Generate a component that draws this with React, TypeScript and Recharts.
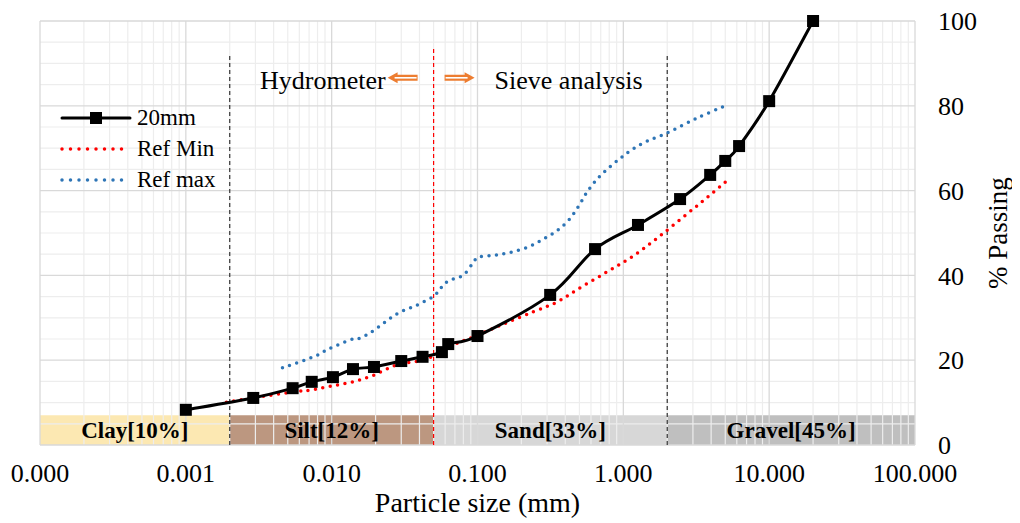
import React from 'react';
import {
  ComposedChart,
  Line,
  XAxis,
  YAxis,
  ReferenceLine,
  ReferenceArea,
  ReferenceDot,
  Legend,
  Label,
} from 'recharts';

// 20mm gradation (hydrometer + sieve)
const sizes20 = [0.001, 0.0029, 0.0054, 0.0073, 0.0102, 0.014, 0.0195, 0.03, 0.042, 0.057, 0.063, 0.1, 0.315, 0.64, 1.26, 2.45, 3.94, 5.0, 6.22, 10, 20];
const pass20 = [8.3, 11.1, 13.4, 14.9, 16.0, 17.9, 18.4, 19.8, 20.8, 21.9, 23.8, 25.7, 35.4, 46.2, 51.9, 58.0, 63.7, 67.0, 70.5, 81.1, 100];

// reference envelope, lower bound
const refMinSizes = [0.0019, 0.0029, 0.0054, 0.0073, 0.01, 0.014, 0.0195, 0.028, 0.042, 0.053, 0.068, 0.094, 0.15, 0.24, 0.35, 0.49, 0.77, 1.17, 1.78, 2.78, 3.8, 5.0];
const refMinPass = [10.1, 11.1, 12.5, 13.0, 13.9, 14.9, 16.5, 18.9, 20.0, 21.5, 23.6, 25.5, 28.5, 31.4, 33.7, 36.8, 40.8, 44.6, 49.3, 54.7, 58.5, 62.0];

// reference envelope, upper bound
const refMaxSizes = [0.0046, 0.0075, 0.0095, 0.0134, 0.0156, 0.0192, 0.028, 0.0385, 0.05, 0.057, 0.0633, 0.08, 0.093, 0.102, 0.133, 0.171, 0.223, 0.283, 0.35, 0.424, 0.495, 0.565, 0.66, 0.79, 0.96, 1.16, 1.46, 2.0, 3.2, 5.0];
const refMaxPass = [18.2, 20.8, 22.6, 24.8, 25.2, 26.9, 30.9, 33.0, 35.1, 37.3, 38.7, 40.1, 42.9, 44.3, 44.8, 45.5, 46.7, 48.6, 50.5, 53.1, 56.4, 59.7, 62.7, 65.3, 67.7, 69.8, 71.7, 73.6, 77.1, 80.0];

const xTicks = [0.0001, 0.001, 0.01, 0.1, 1, 10, 100];
const yTicks = [0, 20, 40, 60, 80, 100];

// soil classes along the bottom
const soilNames = ['Clay[10%]', 'Silt[12%]', 'Sand[33%]', 'Gravel[45%]'];
const soilBounds = [0.0001, 0.002, 0.05, 2, 100];
const soilColors = ['#FCE6AA', '#B58C72', '#D3D3D3', '#B8B8B8'];
const bandTop = 7;

const FONT = "'Liberation Serif', 'Times New Roman', serif";

const toRows = (xs: number[], ys: number[]) => xs.map((x, i) => ({ size: x, pass: ys[i] }));
const data20 = toRows(sizes20, pass20);
const dataMin = toRows(refMinSizes, refMinPass);
const dataMax = toRows(refMaxSizes, refMaxPass);

// log grid: minor lines at 2..9 of every decade
const minorX: number[] = [];
xTicks.slice(0, -1).forEach(d => {
  for (let m = 2; m <= 9; m++) minorX.push(+(d * m).toPrecision(3));
});
const minorY: number[] = [];
for (let v = 5; v < 100; v += 5) if (v % 20 !== 0) minorY.push(v);

const series = [
  { name: '20mm', color: '#000000', dotted: false },
  { name: 'Ref Min', color: '#FF0000', dotted: true },
  { name: 'Ref max', color: '#2E75B6', dotted: true },
];

// Excel-style smoothed line (Catmull-Rom as cubic bezier)
const excelSmooth = (context: any) => {
  let pts: number[][] = [];
  return {
    areaStart() {},
    areaEnd() {},
    lineStart() {
      pts = [];
    },
    point(x: number, y: number) {
      pts.push([x, y]);
    },
    lineEnd() {
      const n = pts.length;
      if (!n) return;
      context.moveTo(pts[0][0], pts[0][1]);
      for (let i = 0; i < n - 1; i++) {
        const p0 = pts[Math.max(0, i - 1)];
        const p1 = pts[i];
        const p2 = pts[i + 1];
        const p3 = pts[Math.min(n - 1, i + 2)];
        context.bezierCurveTo(
          p1[0] + (p2[0] - p0[0]) / 6,
          p1[1] + (p2[1] - p0[1]) / 6,
          p2[0] - (p3[0] - p1[0]) / 6,
          p2[1] - (p3[1] - p1[1]) / 6,
          p2[0],
          p2[1]
        );
      }
    },
  };
};

const SquareDot = (props: any) => {
  const { cx, cy } = props;
  if (cx == null || cy == null) return null;
  return <rect x={cx - 6} y={cy - 6} width={12} height={12} fill="#000" />;
};

const renderLegend = () => (
  <div style={{ fontFamily: FONT, fontSize: 23, color: '#000' }}>
    {series.map(s => (
      <div key={s.name} style={{ display: 'flex', alignItems: 'center', height: 31 }}>
        <svg width={72} height={14}>
          <line
            x1={2}
            x2={70}
            y1={7}
            y2={7}
            stroke={s.color}
            strokeWidth={s.dotted ? 3.5 : 3}
            strokeDasharray={s.dotted ? '0 8.5' : undefined}
            strokeLinecap="round"
          />
          {!s.dotted && <rect x={30} y={1} width={12} height={12} fill="#000" />}
        </svg>
        <span style={{ marginLeft: 5, lineHeight: 1 }}>{s.name}</span>
      </div>
    ))}
  </div>
);

const arrow = (x0: number, y0: number, dir: number) => {
  // hollow-looking double arrow, tip at x0
  const p = (dx: number, dy: number) => `${x0 + dir * dx},${y0 + dy}`;
  const pts = [p(0, 0), p(10, -5.5), p(10, -3), p(30, -3), p(30, 3), p(10, 3), p(10, 5.5)].join(' ');
  return (
    <g>
      <polygon points={pts} fill="#ED7D31" />
      <line x1={x0 + dir * 7} x2={x0 + dir * 29} y1={y0} y2={y0} stroke="#fff" strokeWidth={1.6} />
    </g>
  );
};

const AnnotationLabel = (props: any) => {
  const { viewBox } = props;
  if (!viewBox) return null;
  const cx = viewBox.x + (viewBox.width || 0) / 2;
  const cy = viewBox.y + (viewBox.height || 0) / 2;
  return (
    <g>
      <text x={cx - 48} y={cy + 11} textAnchor="end" fontFamily={FONT} fontSize={26} fill="#000">
        Hydrometer
      </text>
      {arrow(cx - 46, cy, 1)}
      {arrow(cx + 41, cy, -1)}
      <text x={cx + 61} y={cy + 11} textAnchor="start" fontFamily={FONT} fontSize={26} fill="#000">
        Sieve analysis
      </text>
    </g>
  );
};

const YTitle = (props: any) => {
  const { viewBox } = props;
  const x = viewBox.x + viewBox.width - 22;
  const y = viewBox.y + viewBox.height / 2;
  return (
    <text
      x={x}
      y={y}
      transform={`rotate(-90, ${x}, ${y})`}
      textAnchor="middle"
      dominantBaseline="central"
      fontFamily={FONT}
      fontSize={27}
      fill="#000"
    >
      % Passing
    </text>
  );
};

const tickStyle = { fontFamily: FONT, fontSize: 26, fill: '#000' };

export default function App() {
  return (
    <div style={{ width: 1012, height: 515, background: '#fff' }}>
      <ComposedChart width={1012} height={515} margin={{ top: 13, right: 0, left: 32, bottom: 0 }}>
        <XAxis
          type="number"
          dataKey="size"
          scale="log"
          domain={[0.0001, 100]}
          allowDataOverflow
          ticks={xTicks}
          tickFormatter={(v: number) => v.toFixed(3)}
          axisLine={false}
          tickLine={false}
          tickSize={0}
          tickMargin={19}
          height={78}
          tick={tickStyle}
          interval={0}
        >
          <Label
            value="Particle size (mm)"
            position="insideBottom"
            offset={11}
            style={{ fontFamily: FONT, fontSize: 28, fill: '#000' }}
          />
        </XAxis>
        <YAxis
          orientation="right"
          type="number"
          domain={[0, 100]}
          ticks={yTicks}
          axisLine={false}
          tickLine={false}
          tickSize={0}
          tickMargin={23}
          width={105}
          tick={tickStyle}
          interval={0}
        >
          <Label content={<YTitle />} />
        </YAxis>

        {minorX.map(v => (
          <ReferenceLine key={'mx' + v} x={v} stroke="#EDEDED" strokeWidth={1.2} />
        ))}
        {minorY.map(v => (
          <ReferenceLine key={'my' + v} y={v} stroke="#EDEDED" strokeWidth={1.2} />
        ))}
        {xTicks.map(v => (
          <ReferenceLine key={'Mx' + v} x={v} stroke="#D9D9D9" strokeWidth={1.3} />
        ))}
        {yTicks.map(v => (
          <ReferenceLine key={'My' + v} y={v} stroke="#D9D9D9" strokeWidth={1.3} />
        ))}

        {soilNames.map((name, i) => (
          <ReferenceArea
            key={name}
            x1={soilBounds[i]}
            x2={soilBounds[i + 1]}
            y1={0}
            y2={bandTop}
            fill={soilColors[i]}
            fillOpacity={0.9}
            stroke="none"
            label={{
              value: name,
              position: 'center',
              style: { fontFamily: FONT, fontSize: 23, fontWeight: 'bold', fill: '#000' },
            }}
          />
        ))}

        <ReferenceLine
          segment={[{ x: 0.002, y: 0 }, { x: 0.002, y: 92 }]}
          stroke="#333"
          strokeWidth={1.2}
          strokeDasharray="4 3"
        />
        <ReferenceLine
          segment={[{ x: 0.05, y: 0 }, { x: 0.05, y: 93.6 }]}
          stroke="#FF0000"
          strokeWidth={1.2}
          strokeDasharray="4 3"
        />
        <ReferenceLine
          segment={[{ x: 2, y: 0 }, { x: 2, y: 92 }]}
          stroke="#333"
          strokeWidth={1.2}
          strokeDasharray="4 3"
        />
        <ReferenceDot x={0.05} y={86.6} r={0} fill="none" stroke="none" label={<AnnotationLabel />} />

        <Line
          data={dataMax}
          dataKey="pass"
          name="Ref max"
          type={excelSmooth as any}
          stroke="#2E75B6"
          strokeWidth={3.5}
          strokeDasharray="0 7.5"
          strokeLinecap="round"
          dot={false}
          activeDot={false}
          isAnimationActive={false}
        />
        <Line
          data={dataMin}
          dataKey="pass"
          name="Ref Min"
          type={excelSmooth as any}
          stroke="#FF0000"
          strokeWidth={3.5}
          strokeDasharray="0 7.5"
          strokeLinecap="round"
          dot={false}
          activeDot={false}
          isAnimationActive={false}
        />
        <Line
          data={data20}
          dataKey="pass"
          name="20mm"
          type={excelSmooth as any}
          stroke="#000"
          strokeWidth={3}
          dot={<SquareDot />}
          activeDot={false}
          isAnimationActive={false}
        />

        <Legend
          layout="vertical"
          align="center"
          verticalAlign="middle"
          content={renderLegend}
          wrapperStyle={{ left: 52, top: 94, width: 'auto', height: 'auto' }}
        />
      </ComposedChart>
    </div>
  );
}
